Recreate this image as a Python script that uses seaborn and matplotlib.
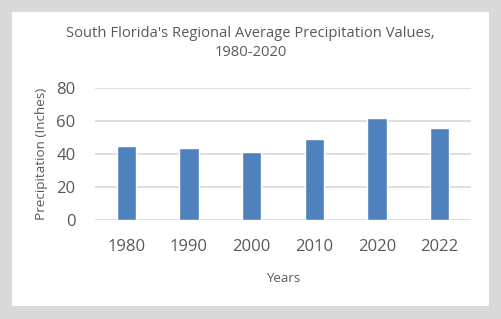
import matplotlib
matplotlib.use("Agg")
import matplotlib.pyplot as plt
from matplotlib.patches import Rectangle
import pandas as pd
import seaborn as sns

years = ["1980", "1990", "2000", "2010", "2020", "2022"]
precip = [44.7, 43.5, 41.2, 49.2, 61.7, 55.6]

sns.set_style("white")
plt.rcParams["font.family"] = ["Open Sans", "DejaVu Sans"]

df = pd.DataFrame({"Years": years, "Precipitation": precip})

fig = plt.figure(figsize=(5.01, 3.19), dpi=100)
fig.patch.set_facecolor("#d9d9d9")
# white chart area inside the grey frame
fig.add_artist(Rectangle((12 / 501, 13 / 319), 477 / 501, 294 / 319,
                         transform=fig.transFigure, facecolor="white",
                         edgecolor="none", zorder=-5))

ax = fig.add_axes([95 / 501, 1 - 220 / 319, 376 / 501, (220 - 87.7) / 319])
ax.set_zorder(2)
ax.set_facecolor("none")
sns.barplot(data=df, x="Years", y="Precipitation", color="#4f81bd",
            width=0.31, saturation=1, ax=ax, zorder=3)

ax.set_ylim(0, 80)
ax.set_yticks([0, 20, 40, 60, 80])
ax.set_xlim(-0.5, len(years) - 0.5)
ax.yaxis.grid(True, color="#d9d9d9", linewidth=1.2, zorder=0)
ax.set_axisbelow(True)
for s in ax.spines.values():
    s.set_visible(False)
ax.tick_params(axis="both", length=0, labelsize=12, colors="#595959")
ax.tick_params(axis="x", pad=14)
ax.tick_params(axis="y", pad=14)

ax.set_xlabel("Years", fontsize=9.5, color="#595959", labelpad=12)
ax.set_ylabel("Precipitation (Inches)", fontsize=9.7, color="#595959", labelpad=6)

fig.text(0.5, 1 - 43 / 319, "South Florida's Regional Average Precipitation Values,\n1980-2020",
         ha="center", va="center", fontsize=10.6, color="#595959", linespacing=1.35)

fig.savefig("out.png", dpi=100, facecolor=fig.get_facecolor())
